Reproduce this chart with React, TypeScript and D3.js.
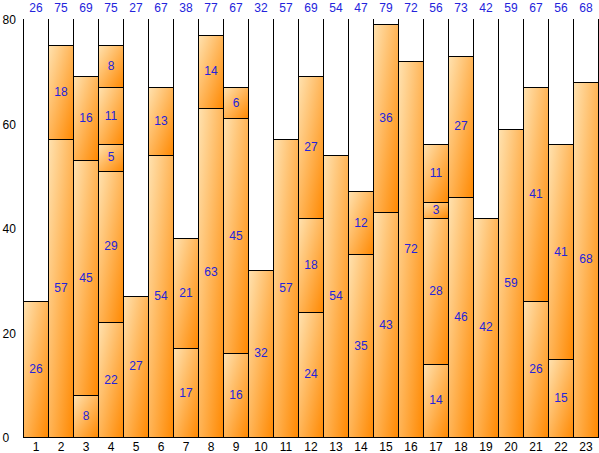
import { useRef, useEffect } from 'react';
import * as d3 from 'd3';

// Segment values per category, bottom to top
const CATEGORIES = ['1', '2', '3', '4', '5', '6', '7', '8', '9', '10', '11', '12',
  '13', '14', '15', '16', '17', '18', '19', '20', '21', '22', '23'];

const SEGMENTS: number[][] = [
  [26],
  [57, 18],
  [8, 45, 16],
  [22, 29, 5, 11, 8],
  [27],
  [54, 13],
  [17, 21],
  [63, 14],
  [16, 45, 6],
  [32],
  [57],
  [24, 18, 27],
  [54],
  [35, 12],
  [43, 36],
  [72],
  [14, 28, 3, 11],
  [46, 27],
  [42],
  [59],
  [26, 41],
  [15, 41],
  [68],
];

const Y_TICKS = [0, 20, 40, 60, 80];

const WIDTH = 599;
const HEIGHT = 453;
const LABEL_COLOR = '#2323dc';
const FONT = '"Liberation Sans", Arial, sans-serif';

export default function App() {
  const svgRef = useRef<SVGSVGElement>(null);

  useEffect(() => {
    if (!svgRef.current) return;
    const svg = d3.select(svgRef.current);
    svg.selectAll('*').remove();

    const left = 23.5;
    const right = 598.5;
    const top = 19;
    const bottom = 437;

    const x = d3.scaleBand<string>().domain(CATEGORIES).range([left, right]).padding(0);
    const y = d3.scaleLinear().domain([0, 80]).range([bottom, top]);

    const defs = svg.append('defs');
    const grad = defs.append('linearGradient')
      .attr('id', 'barGrad')
      .attr('x1', 0).attr('y1', 0).attr('x2', 1).attr('y2', 1);
    grad.append('stop').attr('offset', '0%').attr('stop-color', '#ffe2b0');
    grad.append('stop').attr('offset', '100%').attr('stop-color', '#ff8800');

    // category dividers
    CATEGORIES.forEach((c) => {
      const xr = (x(c) ?? 0) + x.bandwidth();
      svg.append('line')
        .attr('x1', xr).attr('x2', xr)
        .attr('y1', top).attr('y2', bottom)
        .attr('stroke', '#000').attr('stroke-width', 1);
    });

    // stacked segments
    CATEGORIES.forEach((c, i) => {
      const x0 = x(c) ?? 0;
      let base = 0;
      for (const v of SEGMENTS[i]) {
        const y0 = y(base);
        const y1 = y(base + v);
        svg.append('rect')
          .attr('x', x0).attr('y', Math.round(y1) + 0.5)
          .attr('width', x.bandwidth())
          .attr('height', Math.round(y0) - Math.round(y1))
          .attr('fill', 'url(#barGrad)')
          .attr('stroke', '#000').attr('stroke-width', 1);
        svg.append('text')
          .attr('x', x0 + x.bandwidth() / 2)
          .attr('y', y(base + v / 2))
          .attr('text-anchor', 'middle')
          .attr('dominant-baseline', 'central')
          .attr('font-family', FONT)
          .attr('font-size', 12)
          .attr('fill', LABEL_COLOR)
          .text(v);
        base += v;
      }
      // total on top
      svg.append('text')
        .attr('x', x0 + x.bandwidth() / 2)
        .attr('y', 8)
        .attr('text-anchor', 'middle')
        .attr('dominant-baseline', 'central')
        .attr('font-family', FONT)
        .attr('font-size', 12)
        .attr('fill', LABEL_COLOR)
        .text(base);
      // category label
      svg.append('text')
        .attr('x', x0 + x.bandwidth() / 2)
        .attr('y', 447)
        .attr('text-anchor', 'middle')
        .attr('dominant-baseline', 'central')
        .attr('font-family', FONT)
        .attr('font-size', 12)
        .attr('fill', '#000')
        .text(c);
    });

    // axes lines
    svg.append('line')
      .attr('x1', left).attr('x2', left)
      .attr('y1', top).attr('y2', bottom)
      .attr('stroke', '#000');
    svg.append('line')
      .attr('x1', left).attr('x2', right)
      .attr('y1', bottom + 0.5).attr('y2', bottom + 0.5)
      .attr('stroke', '#000');

    Y_TICKS.forEach((t) => {
      svg.append('text')
        .attr('x', 2.5)
        .attr('y', y(t) + 1)
        .attr('text-anchor', 'start')
        .attr('dominant-baseline', 'central')
        .attr('font-family', FONT)
        .attr('font-size', 12)
        .attr('fill', '#000')
        .text(t);
    });
  }, []);

  return (
    <svg
      ref={svgRef}
      width={WIDTH}
      height={HEIGHT}
      viewBox={`0 0 ${WIDTH} ${HEIGHT}`}
      style={{ position: 'fixed', left: 0, top: 0, background: '#fff' }}
    />
  );
}
